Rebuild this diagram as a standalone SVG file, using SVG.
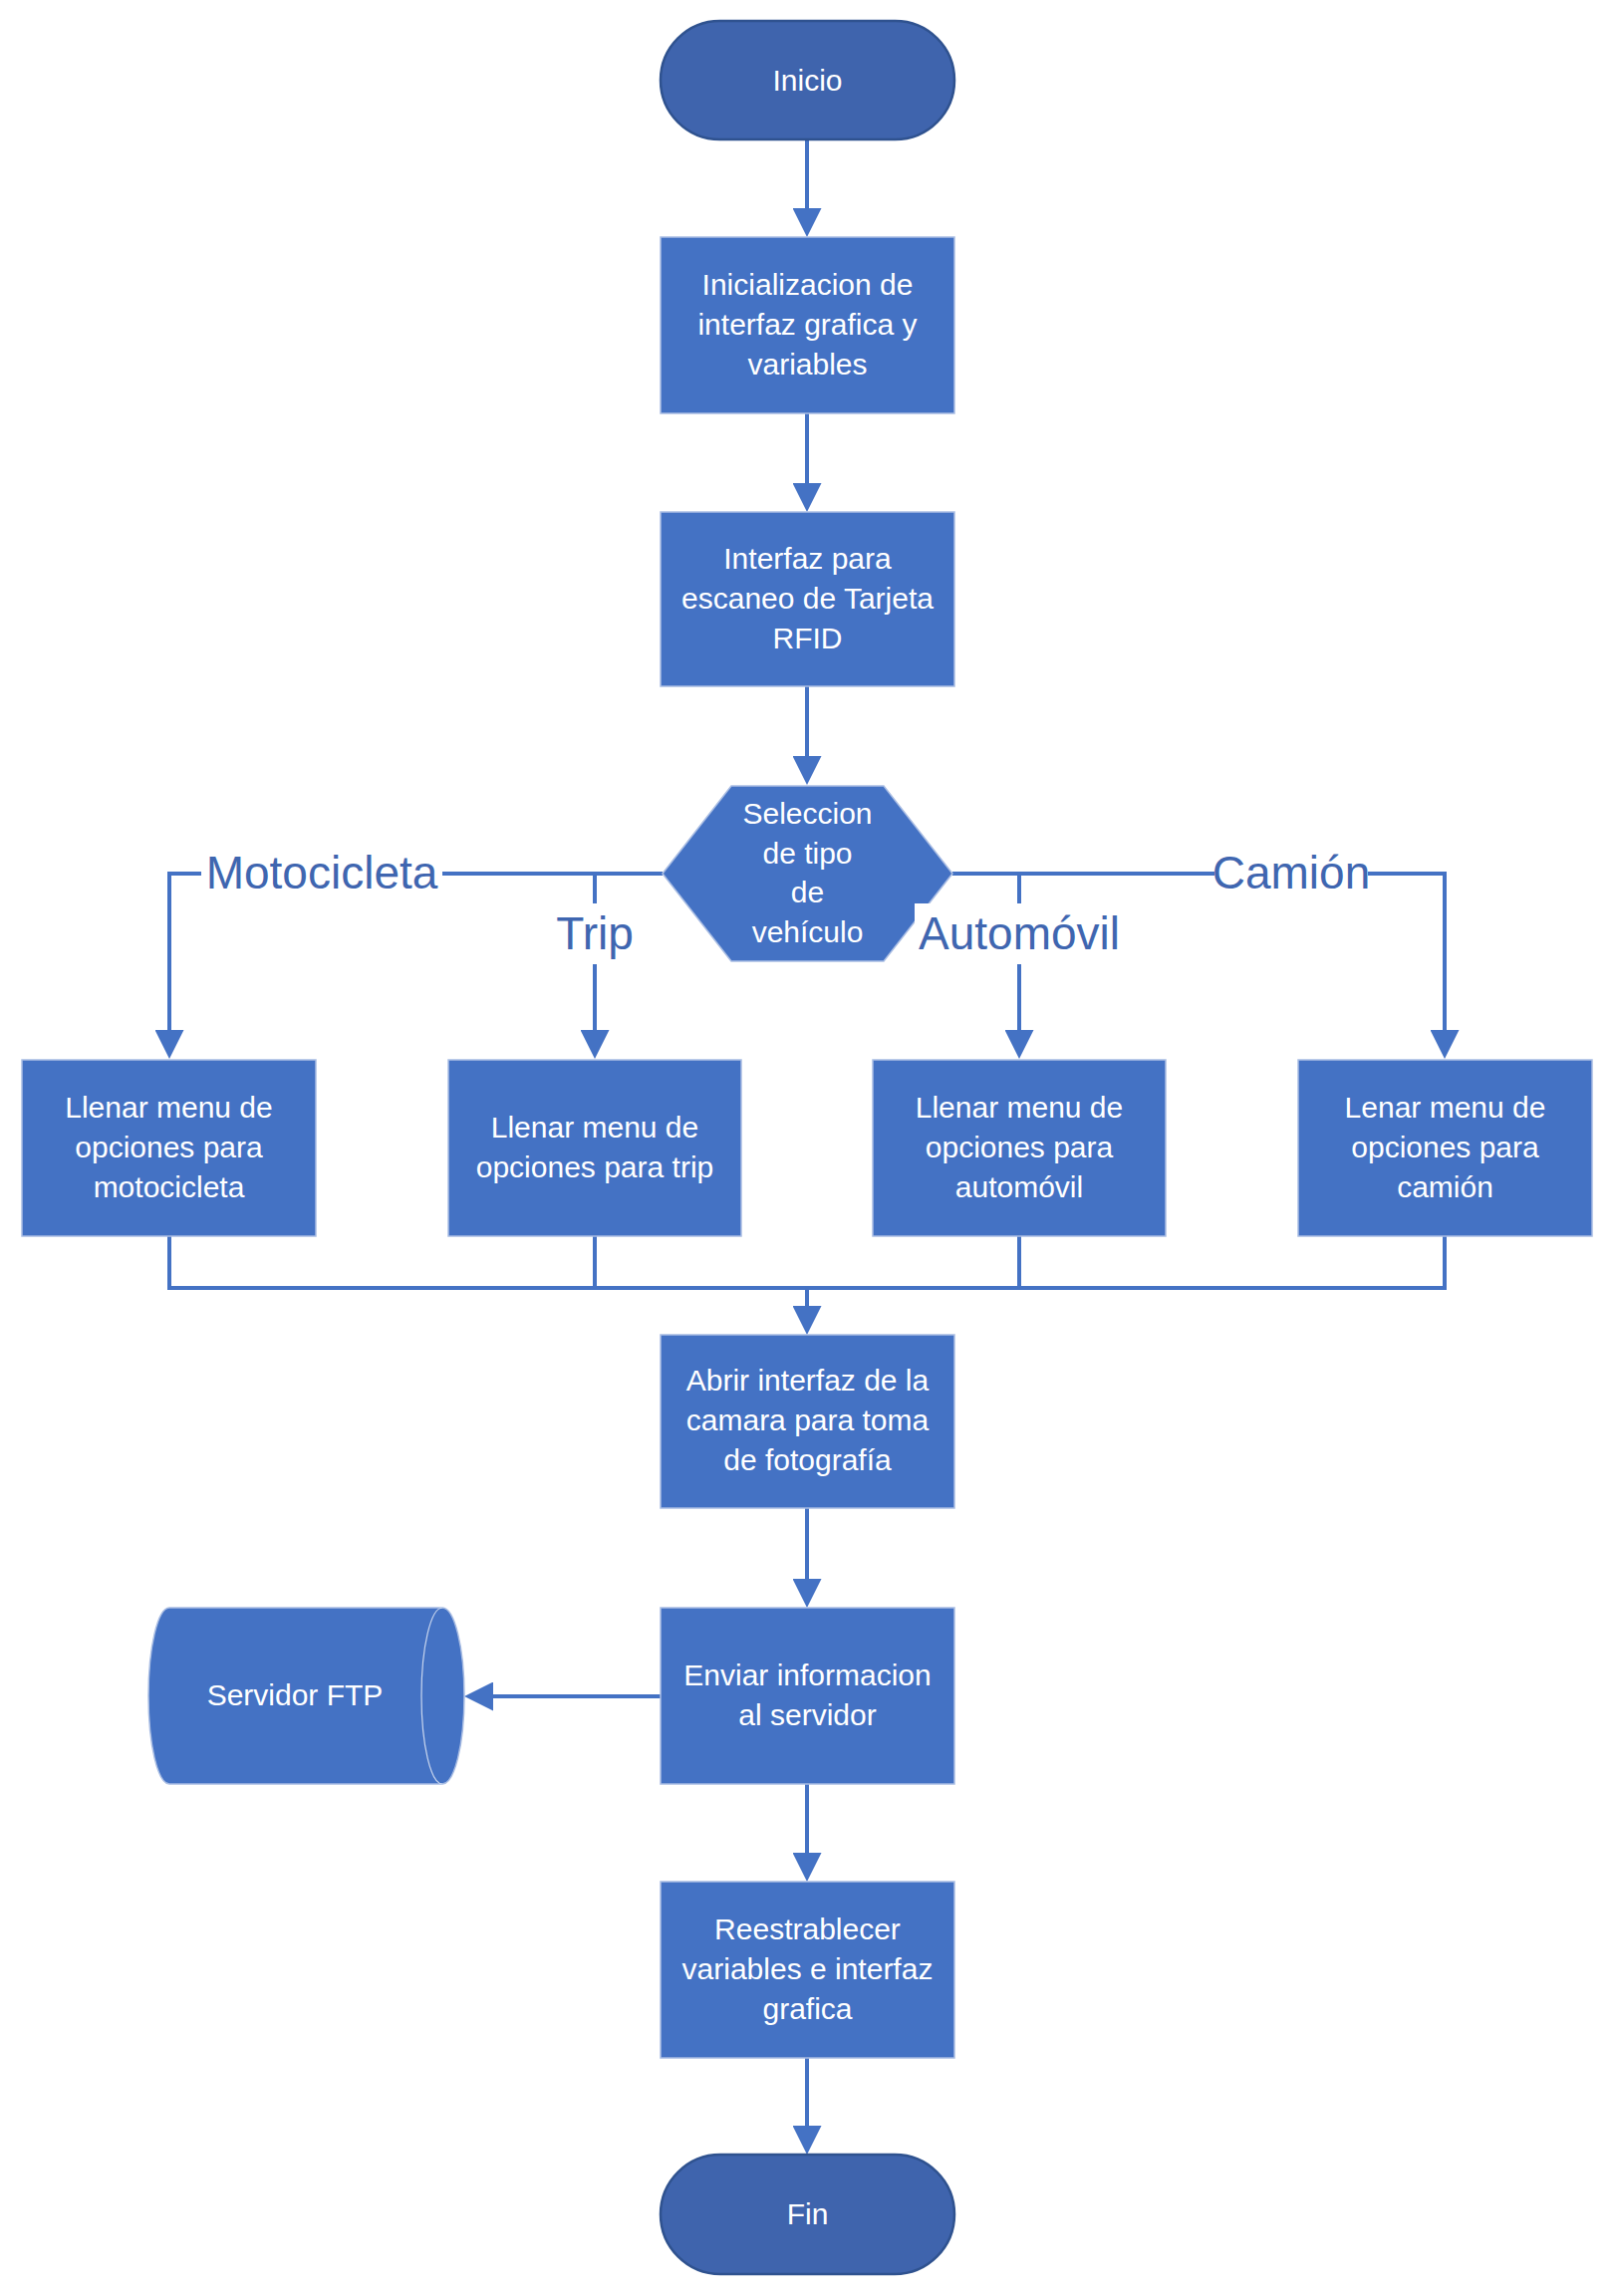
<svg xmlns="http://www.w3.org/2000/svg" width="1620" height="2305" viewBox="0 0 1620 2305">
  <style>
    .proc { fill: #4472C4; stroke: #A9BDE3; stroke-width: 1.5; }
    .term { fill: #3F64AD; stroke: #2F528F; stroke-width: 2.5; }
    .txt { font-family: "Liberation Sans", Arial, sans-serif; font-size: 30px; fill: #FFFFFF; text-anchor: middle; }
    .lbl { font-family: "Liberation Sans", Arial, sans-serif; font-size: 46px; fill: #3F66B0; text-anchor: middle; }
    .wire { fill: none; stroke: #4472C4; stroke-width: 4; }
    .lblbg { fill: #FFFFFF; }
  </style>
  <defs>
    <marker id="arrow" markerUnits="userSpaceOnUse" markerWidth="29" markerHeight="29" refX="19" refY="14.5" orient="auto">
      <path d="M0,0 L29,14.5 L0,29 Z" fill="#4472C4"/>
    </marker>
  </defs>

  <rect width="1620" height="2305" fill="#FFFFFF"/>

  <!-- connectors -->
  <g id="connectors">
    <line class="wire" x1="810" y1="140" x2="810" y2="228" marker-end="url(#arrow)"/>
    <line class="wire" x1="810" y1="415" x2="810" y2="504" marker-end="url(#arrow)"/>
    <line class="wire" x1="810" y1="689" x2="810" y2="778" marker-end="url(#arrow)"/>
    <!-- branch bus from the decision -->
    <polyline class="wire" points="665,877 170,877 170,1053" marker-end="url(#arrow)"/>
    <polyline class="wire" points="956,877 1450,877 1450,1053" marker-end="url(#arrow)"/>
    <line class="wire" x1="597" y1="877" x2="597" y2="1053" marker-end="url(#arrow)"/>
    <line class="wire" x1="1023" y1="877" x2="1023" y2="1053" marker-end="url(#arrow)"/>
    <!-- merge bus -->
    <polyline class="wire" points="170,1241 170,1293 1450,1293 1450,1241"/>
    <line class="wire" x1="597" y1="1241" x2="597" y2="1293"/>
    <line class="wire" x1="1023" y1="1241" x2="1023" y2="1293"/>
    <line class="wire" x1="810" y1="1293" x2="810" y2="1330" marker-end="url(#arrow)"/>
    <line class="wire" x1="810" y1="1514" x2="810" y2="1604" marker-end="url(#arrow)"/>
    <line class="wire" x1="663" y1="1703" x2="476" y2="1703" marker-end="url(#arrow)"/>
    <line class="wire" x1="810" y1="1791" x2="810" y2="1879" marker-end="url(#arrow)"/>
    <line class="wire" x1="810" y1="2066" x2="810" y2="2153" marker-end="url(#arrow)"/>
  </g>

  <!-- nodes -->
  <g id="inicio">
    <rect class="term" x="663" y="21" width="295" height="119" rx="59.5" ry="59.5"/>
    <text class="txt" x="810.5" y="91">Inicio</text>
  </g>

  <g id="inicializacion">
    <rect class="proc" x="663" y="238" width="295" height="177"/>
    <text class="txt"><tspan x="810.5" y="295.5">Inicializacion de</tspan><tspan x="810.5" y="335.5">interfaz grafica y</tspan><tspan x="810.5" y="375.5">variables</tspan></text>
  </g>

  <g id="escaneo">
    <rect class="proc" x="663" y="514" width="295" height="175"/>
    <text class="txt"><tspan x="810.5" y="570.5">Interfaz para</tspan><tspan x="810.5" y="610.5">escaneo de Tarjeta</tspan><tspan x="810.5" y="650.5">RFID</tspan></text>
  </g>

  <g id="seleccion">
    <polygon points="665,877 734,789 887,789 956,877 887,965 734,965" fill="#4472C4" stroke="#A9BDE3" stroke-width="1.5"/>
    <text class="txt"><tspan x="810.5" y="827">Seleccion</tspan><tspan x="810.5" y="866.5">de tipo</tspan><tspan x="810.5" y="906">de</tspan><tspan x="810.5" y="945.5">vehículo</tspan></text>
  </g>

  <!-- branch labels -->
  <g id="branch-labels">
    <rect class="lblbg" x="202" y="846" width="242" height="61"/>
    <text class="lbl" x="323" y="892">Motocicleta</text>
    <rect class="lblbg" x="556" y="907" width="82" height="61"/>
    <text class="lbl" x="597" y="953">Trip</text>
    <rect class="lblbg" x="918" y="907" width="210" height="61"/>
    <text class="lbl" x="1023" y="953">Automóvil</text>
    <rect class="lblbg" x="1219" y="846" width="154" height="61"/>
    <text class="lbl" x="1296" y="892">Camión</text>
  </g>

  <g id="menu-motocicleta">
    <rect class="proc" x="22" y="1064" width="295" height="177"/>
    <text class="txt"><tspan x="169.5" y="1121.5">Llenar menu de</tspan><tspan x="169.5" y="1161.5">opciones para</tspan><tspan x="169.5" y="1201.5">motocicleta</tspan></text>
  </g>

  <g id="menu-trip">
    <rect class="proc" x="450" y="1064" width="294" height="177"/>
    <text class="txt"><tspan x="597" y="1141.5">Llenar menu de</tspan><tspan x="597" y="1181.5">opciones para trip</tspan></text>
  </g>

  <g id="menu-automovil">
    <rect class="proc" x="876" y="1064" width="294" height="177"/>
    <text class="txt"><tspan x="1023" y="1121.5">Llenar menu de</tspan><tspan x="1023" y="1161.5">opciones para</tspan><tspan x="1023" y="1201.5">automóvil</tspan></text>
  </g>

  <g id="menu-camion">
    <rect class="proc" x="1303" y="1064" width="295" height="177"/>
    <text class="txt"><tspan x="1450.5" y="1121.5">Lenar menu de</tspan><tspan x="1450.5" y="1161.5">opciones para</tspan><tspan x="1450.5" y="1201.5">camión</tspan></text>
  </g>

  <g id="camara">
    <rect class="proc" x="663" y="1340" width="295" height="174"/>
    <text class="txt"><tspan x="810.5" y="1396">Abrir interfaz de la</tspan><tspan x="810.5" y="1436">camara para toma</tspan><tspan x="810.5" y="1476">de fotografía</tspan></text>
  </g>

  <g id="enviar">
    <rect class="proc" x="663" y="1614" width="295" height="177"/>
    <text class="txt"><tspan x="810.5" y="1692">Enviar informacion</tspan><tspan x="810.5" y="1732">al servidor</tspan></text>
  </g>

  <g id="servidor-ftp">
    <path d="M170,1614 L444,1614 A22,88.5 0 0 1 444,1791 L170,1791 A21,88.5 0 0 1 170,1614 Z" fill="#4472C4" stroke="#A9BDE3" stroke-width="1.5"/>
    <path d="M444,1614 A21,88.5 0 0 0 444,1791" fill="none" stroke="#C9D6EE" stroke-width="1.2"/>
    <text class="txt" x="296" y="1712">Servidor FTP</text>
  </g>

  <g id="reestablecer">
    <rect class="proc" x="663" y="1889" width="295" height="177"/>
    <text class="txt"><tspan x="810.5" y="1946.5">Reestrablecer</tspan><tspan x="810.5" y="1986.5">variables e interfaz</tspan><tspan x="810.5" y="2026.5">grafica</tspan></text>
  </g>

  <g id="fin">
    <rect class="term" x="663" y="2163" width="295" height="120" rx="60" ry="60"/>
    <text class="txt" x="810.5" y="2233">Fin</text>
  </g>
</svg>
